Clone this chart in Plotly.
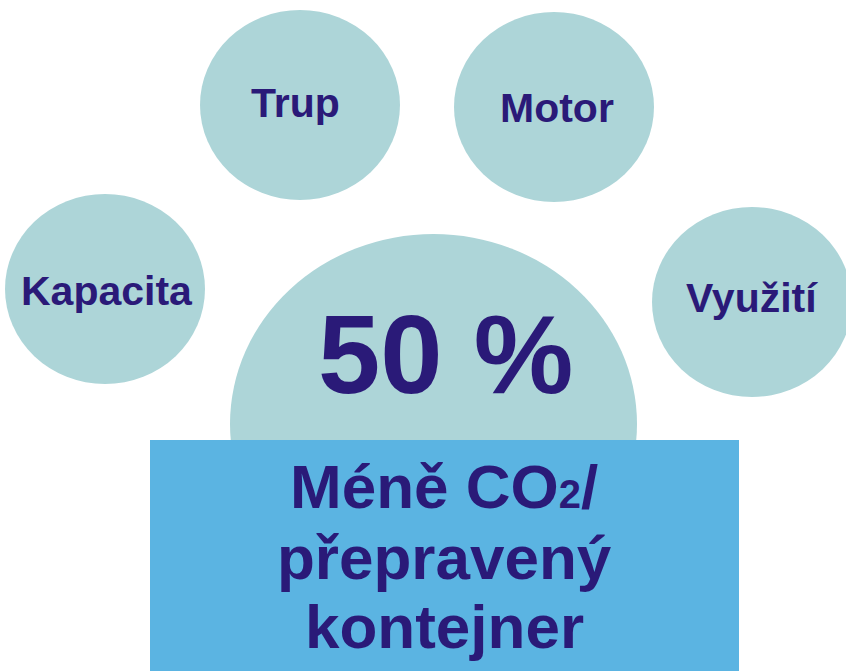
import plotly.graph_objects as go

# Content
factor_labels = ["Trup", "Motor", "Kapacita", "Využití"]
center_value = "50 %"
box_lines = ["Méně CO<span style='font-size:40px'>2</span>/", "přepravený", "kontejner"]

# Layout (page-pixel coordinates)
factor_centers = [(300, 105), (554, 107), (105, 289), (752, 302)]
factor_r = (100, 95)
label_pos = [(295, 103), (557, 108), (107, 291), (752, 298)]
big_ellipse = dict(x0=230, x1=637, y0=234, y1=614)
box = dict(x0=150, x1=739, y0=440, y1=690)

CIRCLE = "#ADD5D8"
BOX = "#5BB4E2"
TEXT = "#2A1A78"
FONT = "Liberation Sans, Arial, sans-serif"

fig = go.Figure()
fig.add_trace(go.Scatter(x=[0, 846], y=[0, 671], mode="markers",
                         marker=dict(opacity=0), hoverinfo="skip", showlegend=False))

shapes = []
for (cx, cy) in factor_centers:
    shapes.append(dict(type="circle", xref="x", yref="y",
                       x0=cx - factor_r[0], x1=cx + factor_r[0],
                       y0=cy - factor_r[1], y1=cy + factor_r[1],
                       fillcolor=CIRCLE, line=dict(width=0), layer="below"))
shapes.append(dict(type="circle", xref="x", yref="y", **big_ellipse,
                   fillcolor=CIRCLE, line=dict(width=0), layer="below"))
shapes.append(dict(type="rect", xref="x", yref="y", **box,
                   fillcolor=BOX, line=dict(width=0), layer="below"))

annotations = []
for lab, (lx, ly) in zip(factor_labels, label_pos):
    annotations.append(dict(x=lx, y=ly, xref="x", yref="y",
                            text=f"<b>{lab}</b>", showarrow=False,
                            font=dict(family=FONT, size=41, color=TEXT)))
annotations.append(dict(x=445, y=354, xref="x", yref="y",
                        text=f"<b>{center_value}</b>", showarrow=False,
                        font=dict(family=FONT, size=112, color=TEXT)))
line_y = [486, 557, 626]
for txt, yy in zip(box_lines, line_y):
    annotations.append(dict(x=444, y=yy, xref="x", yref="y",
                            text=f"<b>{txt}</b>", showarrow=False,
                            font=dict(family=FONT, size=62, color=TEXT)))

fig.update_layout(
    width=846, height=671,
    margin=dict(l=0, r=0, t=0, b=0),
    paper_bgcolor="white", plot_bgcolor="white",
    xaxis=dict(range=[0, 846], visible=False, fixedrange=True),
    yaxis=dict(range=[671, 0], visible=False, fixedrange=True),
    shapes=shapes, annotations=annotations, showlegend=False,
    hovermode=False,
)
fig.write_html("out.html",
               config={"displayModeBar": False, "staticPlot": True},
               post_script="document.body.style.margin='0';document.body.style.overflow='hidden';")
